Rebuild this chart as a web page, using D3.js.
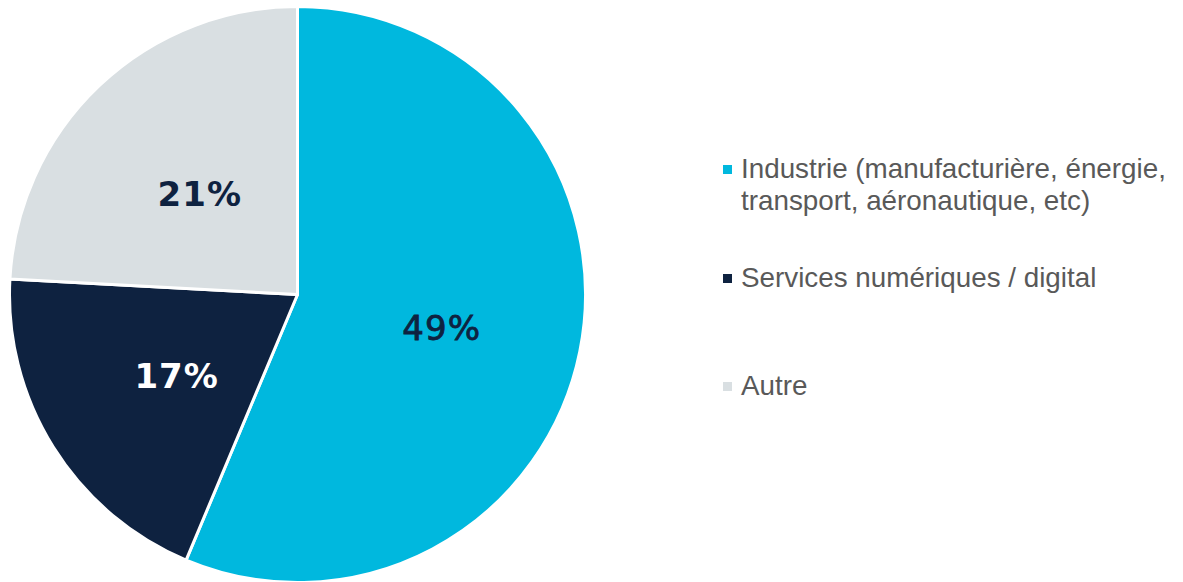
<!DOCTYPE html>
<html>
<head>
<meta charset="utf-8">
<script src="https://cdn.jsdelivr.net/npm/d3@7"></script>
<style>
  html, body { margin: 0; padding: 0; background: #ffffff; }
  svg { display: block; }
</style>
</head>
<body>
<svg id="chart" width="1183" height="582"></svg>
<script>
// Sectors, their shares (percent) and colours
const categories = [
  "Industrie (manufacturière, énergie,|transport, aéronautique, etc)",
  "Services numériques / digital",
  "Autre"
];
const values = [49, 17, 21];
const colors = ["#00B8DE", "#0E2240", "#D9DFE2"];
const labelColors = ["#0E2240", "#FFFFFF", "#0E2240"];
const labelWeights = ["normal", "bold", "bold"];

const svg = d3.select("#chart");
const cx = 297.5, cy = 294.5, R = 288;

const pie = d3.pie().sort(null).value(d => d)(values);
const arc = d3.arc().innerRadius(0).outerRadius(R);
const labelArc = d3.arc().innerRadius(145).outerRadius(145);

const g = svg.append("g").attr("transform", `translate(${cx},${cy})`);

g.selectAll("path.slice")
  .data(pie)
  .join("path")
  .attr("class", "slice")
  .attr("d", arc)
  .attr("fill", (d, i) => colors[i])
  .attr("stroke", "#ffffff")
  .attr("stroke-width", 3)
  .attr("stroke-linejoin", "round");

g.selectAll("text.pct")
  .data(pie)
  .join("text")
  .attr("class", "pct")
  .attr("transform", d => {
    const [x, y] = labelArc.centroid(d);
    return `translate(${x + 2},${y + 17})`;
  })
  .attr("text-anchor", "middle")
  .attr("font-family", "'DejaVu Sans', sans-serif")
  .attr("font-size", 34)
  .attr("font-weight", (d, i) => labelWeights[i])
  .attr("letter-spacing", 1)
  .attr("stroke", (d, i) => i === 0 ? labelColors[i] : "none")
  .attr("stroke-width", 0.8)
  .attr("fill", (d, i) => labelColors[i])
  .text(d => d.data + "%");

// Legend
const legendY = [178, 287, 395];
const legend = svg.append("g").attr("transform", "translate(723,0)");
categories.forEach((c, i) => {
  legend.append("rect")
    .attr("x", 0)
    .attr("y", legendY[i] - 13)
    .attr("width", 9)
    .attr("height", 9)
    .attr("fill", colors[i]);
  const t = legend.append("text")
    .attr("x", 18)
    .attr("y", legendY[i])
    .attr("font-family", "'Liberation Sans', Arial, sans-serif")
    .attr("font-size", 27.8)
    .attr("fill", "#595959");
  c.split("|").forEach((line, j) => {
    t.append("tspan")
      .attr("x", 18)
      .attr("dy", j === 0 ? 0 : 32)
      .text(line);
  });
});
</script>
</body>
</html>
